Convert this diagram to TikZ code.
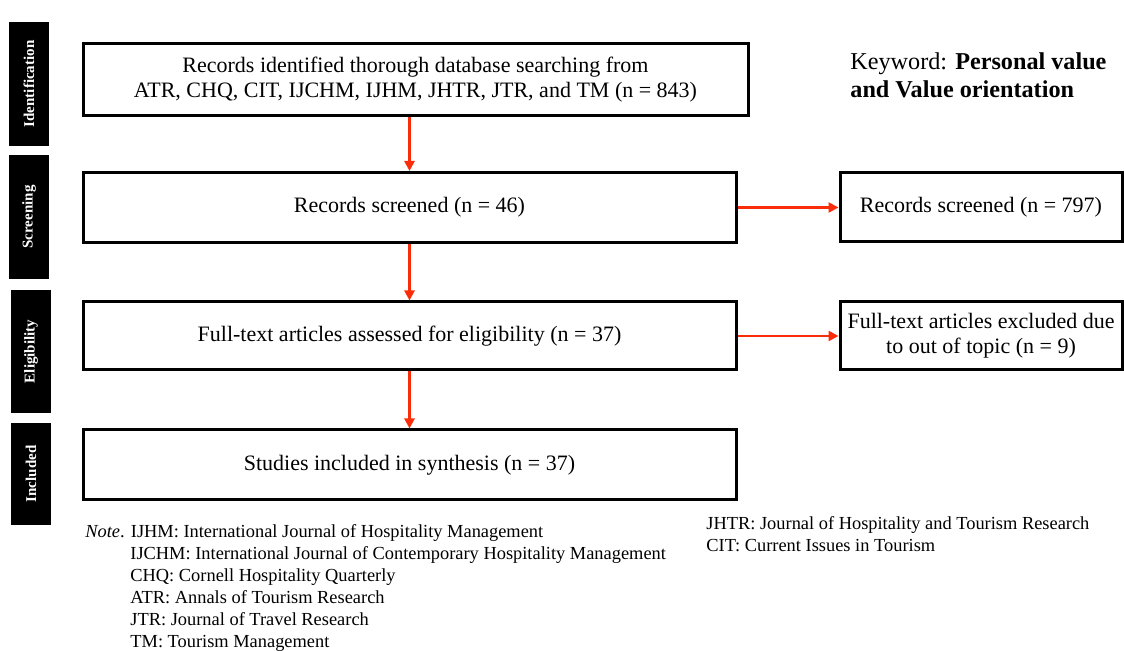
\documentclass[tikz,border=0pt]{standalone}
\usepackage{fontspec}
\setmainfont{Liberation Serif}
\usepackage{xcolor}
\usetikzlibrary{arrows.meta,positioning}

\definecolor{arrred}{RGB}{250,45,10}

\begin{document}
\begin{tikzpicture}[
  x=0.5pt, y=-0.5pt,
  phase/.style={fill=black, text=white, rotate=90, inner sep=0pt, minimum height=20pt, font=\fontsize{7.5}{9}\selectfont\bfseries},
  stage/.style={draw, line width=1.5pt, inner sep=0pt, minimum height=35pt, align=center, font=\fontsize{11}{12.5}\selectfont},
  side/.style={draw, line width=1.5pt, inner sep=0pt, minimum width=141pt, minimum height=34.5pt, align=center, font=\fontsize{11}{12.5}\selectfont},
  note/.style={anchor=north west, align=left, inner sep=0pt, font=\fontsize{9.2}{11}\selectfont},
  arr/.style={-{Triangle[length=5pt, width=5pt]}, line width=1.4pt, draw=arrred}
]
  \useasboundingbox (0,0) rectangle (1124,651);

  % Phase labels
  \node[phase, minimum width=62pt] (pid) at (29,84) {Identification};
  \node[phase, minimum width=62pt] (psc) at (29,217) {Screening};
  \node[phase, minimum width=61.5pt] (pel) at (31,351.5) {Eligibility};
  \node[phase, minimum width=51pt] (pin) at (31,474) {Included};

  % Main flow
  \node[stage, minimum width=332.5pt, minimum height=36pt] (ident) at (415.5,80)
    {Records identified thorough database searching from\\ATR, CHQ, CIT, IJCHM, IJHM, JHTR, JTR, and TM (n = 843)};
  \node[stage, minimum width=326.5pt] (screen) at (409.5,207.5) {Records screened (n = 46)};
  \node[stage, minimum width=326.5pt, minimum height=34pt] (elig) at (409.5,336) {Full-text articles assessed for eligibility (n = 37)};
  \node[stage, minimum width=326.5pt] (incl) at (409.5,465) {Studies included in synthesis (n = 37)};

  % Excluded
  \node[side] (excl) at (981,207.5) {Records screened (n = 797)};
  \node[side, minimum height=34pt] (topic) at (981,336) {Full-text articles excluded due\\to out of topic (n = 9)};

  \draw[arr] (ident.south -| screen.north) -- (screen.north);
  \draw[arr] (screen) -- (elig);
  \draw[arr] (elig) -- (incl);
  \draw[arr] (screen) -- (excl);
  \draw[arr] (elig) -- (topic);

  % Keyword
  \node[anchor=north west, align=left, inner sep=0pt, font=\fontsize{12.1}{14}\selectfont] (kw) at (850,52)
    {Keyword: \textbf{Personal value}\\\textbf{and Value orientation}};

  % Notes
  \node[note] (note) at (85,524) {\textit{Note}. IJHM: International Journal of Hospitality Management};
  \node[note] (abbr) at (130,546) {IJCHM: International Journal of Contemporary Hospitality Management\\
    CHQ: Cornell Hospitality Quarterly\\ATR: Annals of Tourism Research\\
    JTR: Journal of Travel Research\\TM: Tourism Management};
  \node[note] (abbr2) at (706,516) {JHTR: Journal of Hospitality and Tourism Research\\CIT: Current Issues in Tourism};
\end{tikzpicture}
\end{document}
